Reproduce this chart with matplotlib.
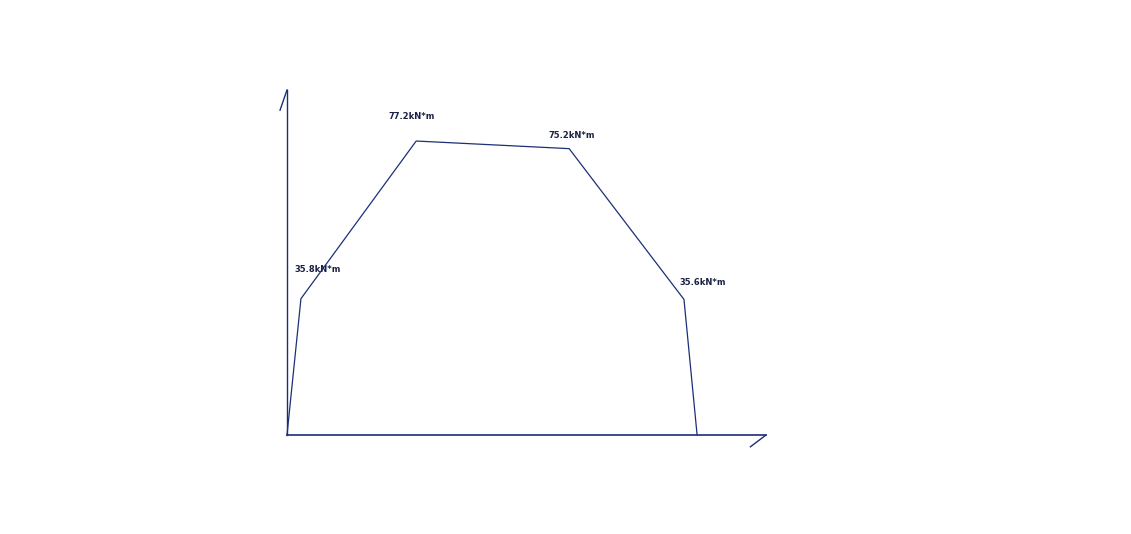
import matplotlib
matplotlib.use("Agg")
import matplotlib.pyplot as plt

# torque curve points (x in arbitrary units, y in kN*m)
x_vals = [0, 3.4, 31.5, 68.8, 96.8, 100]
y_vals = [0, 35.8, 77.2, 75.2, 35.6, 0]
labels = ["", "35.8kN*m", "77.2kN*m", "75.2kN*m", "35.6kN*m", ""]
# label offsets in pixels (dx, dy)
offsets = [None, (-6, 29), (-28, 25), (-21, 13), (-4, 17), None]

x_max = 116.8
y_max = 90.6
line_color = "#1c2f78"

fig = plt.figure(figsize=(11.31, 5.34), dpi=100)
ax = fig.add_axes([287 / 1131, 99 / 534, 479 / 1131, 345 / 534])
ax.set_xlim(0, x_max)
ax.set_ylim(0, y_max)
ax.axis("off")

# axes drawn by hand with small arrow strokes
ax.plot([0, 0], [0, y_max], color=line_color, lw=1, clip_on=False)
ax.plot([0, -1.7], [y_max, 85.3], color=line_color, lw=1, clip_on=False)
ax.plot([0, x_max], [0, 0], color=line_color, lw=1.2, clip_on=False)
ax.plot([x_max, 113], [0, -3.1], color=line_color, lw=1, clip_on=False)

ax.plot(x_vals, y_vals, color=line_color, lw=0.9, clip_on=False)

for xv, yv, lab, off in zip(x_vals, y_vals, labels, offsets):
    if not lab:
        continue
    ax.annotate(lab, (xv, yv), xytext=(off[0] * 0.72, off[1] * 0.72),
                textcoords="offset points", ha="left", va="center",
                fontsize=6, fontweight="bold", color="#1a2244")

fig.savefig("out.png", dpi=100)
